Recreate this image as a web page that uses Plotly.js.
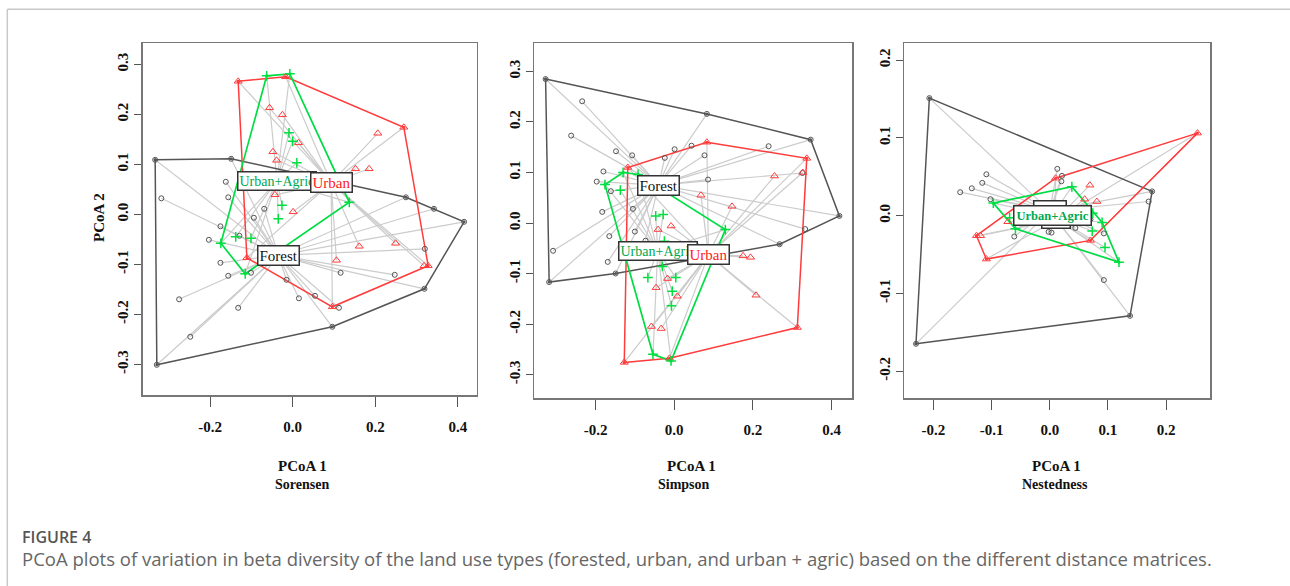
<!DOCTYPE html>
<html>
<head>
<meta charset="utf-8">
<script src="https://cdn.plot.ly/plotly-3.0.1.min.js"></script>
<style>
html,body{margin:0;padding:0;background:#fff;}
#chart{width:1290px;height:586px;}
</style>
</head>
<body>
<div id="chart"></div>
<script>
// ---------------- DATA ----------------
const groupNames = ["Forest", "Urban", "Urban+Agric"];
const panelTitles = ["Sorensen", "Simpson", "Nestedness"];
const axisTitleX = "PCoA 1";
const axisTitleY = "PCoA 2";

// Panel 1 - Sorensen
const sorForestX = [-0.333,-0.149,0.274,0.342,0.415,0.319,0.096,-0.329,-0.318,-0.162,-0.156,-0.069,-0.094,-0.175,-0.129,-0.203,-0.175,-0.156,-0.101,-0.275,-0.132,-0.248,-0.015,0.015,0.054,0.112,0.116,0.247,0.320];
const sorForestY = [0.109,0.111,0.034,0.011,-0.015,-0.149,-0.225,-0.301,0.032,0.065,0.034,0.011,-0.007,-0.024,-0.043,-0.051,-0.097,-0.123,-0.117,-0.170,-0.187,-0.245,-0.131,-0.168,-0.163,-0.187,-0.117,-0.121,-0.069];
const sorUrbanX = [-0.132,-0.017,0.269,0.328,0.318,0.096,-0.111,-0.056,-0.025,0.014,-0.048,-0.039,0.206,0.152,0.185,-0.043,0.001,0.161,0.249,0.106];
const sorUrbanY = [0.266,0.275,0.174,-0.103,-0.103,-0.185,-0.087,0.213,0.199,0.143,0.125,0.108,0.162,0.091,0.091,0.039,0.005,-0.064,-0.058,-0.092];
const sorAgricX = [-0.063,-0.007,0.137,-0.115,-0.174,-0.009,0.000,0.010,-0.026,-0.035,-0.138,-0.101];
const sorAgricY = [0.277,0.281,0.024,-0.119,-0.058,0.163,0.146,0.103,0.018,-0.009,-0.045,-0.048];
const sorCentroidX = [-0.035, 0.093, -0.038];
const sorCentroidY = [-0.082, 0.063, 0.067];

// Panel 2 - Simpson
const simForestX = [-0.327,0.083,0.347,0.420,0.268,-0.149,-0.318,-0.234,-0.262,-0.148,-0.107,-0.024,0.001,0.044,0.077,0.240,0.326,0.086,-0.180,-0.197,-0.161,-0.105,-0.183,-0.100,-0.165,-0.073,-0.308,-0.169,0.333];
const simForestY = [0.285,0.216,0.165,0.014,-0.042,-0.100,-0.117,0.241,0.173,0.142,0.134,0.129,0.146,0.153,0.134,0.152,0.099,0.086,0.102,0.082,0.063,0.028,0.022,-0.017,-0.026,-0.035,-0.055,-0.077,-0.012];
const simUrbanX = [-0.118,0.083,0.337,0.313,-0.012,-0.127,0.327,0.255,0.068,0.147,-0.041,-0.008,0.175,0.194,-0.017,-0.046,0.008,0.208,-0.058,-0.033];
const simUrbanY = [0.110,0.160,0.128,-0.207,-0.268,-0.276,0.100,0.093,0.055,0.033,-0.013,-0.006,-0.065,-0.068,-0.110,-0.128,-0.145,-0.143,-0.205,-0.209];
const simAgricX = [-0.176,-0.130,-0.092,0.130,-0.008,-0.054,-0.137,-0.047,-0.028,-0.025,-0.030,-0.067,0.004,-0.005,-0.007];
const simAgricY = [0.076,0.100,0.096,-0.013,-0.273,-0.260,0.065,0.014,0.017,-0.036,-0.086,-0.108,-0.108,-0.135,-0.164];
const simCentroidX = [-0.040, 0.087, -0.042];
const simCentroidY = [0.075, -0.063, -0.055];

// Panel 3 - Nestedness
const nesForestX = [-0.207,0.176,0.138,-0.230,0.013,0.021,0.020,-0.109,-0.116,-0.134,-0.154,-0.102,0.170,0.070,0.093,-0.061,-0.002,0.003,0.044,0.093];
const nesForestY = [0.151,0.031,-0.129,-0.165,0.060,0.051,0.044,0.053,0.042,0.035,0.030,0.021,0.018,-0.005,-0.023,-0.027,-0.021,-0.022,-0.016,-0.083];
const nesUrbanX = [0.254,0.010,-0.126,-0.119,-0.109,0.070,0.069,0.060,0.081,-0.072];
const nesUrbanY = [0.106,0.048,-0.026,-0.026,-0.056,-0.032,0.039,0.021,0.018,-0.008];
const nesAgricX = [-0.097,0.038,0.074,0.090,0.119,-0.059,0.073,0.095,-0.069];
const nesAgricY = [0.016,0.037,0.003,-0.009,-0.060,-0.017,-0.020,-0.041,-0.003];
const nesCentroidX = [0.000, 0.010, 0.004];
const nesCentroidY = [0.006, -0.006, 0.000];

// Tick labels
const xTicks12 = [-0.2, 0.0, 0.2, 0.4];
const xTickText12 = ["-0.2", "0.0", "0.2", "0.4"];
const yTicks12 = [-0.3, -0.2, -0.1, 0.0, 0.1, 0.2, 0.3];
const yTickText12 = ["-0.3", "-0.2", "-0.1", "0.0", "0.1", "0.2", "0.3"];
const xTicks3 = [-0.2, -0.1, 0.0, 0.1, 0.2];
const xTickText3 = ["-0.2", "-0.1", "0.0", "0.1", "0.2"];
const yTicks3 = [-0.2, -0.1, 0.0, 0.1, 0.2];
const yTickText3 = ["-0.2", "-0.1", "0.0", "0.1", "0.2"];

const captionTitle = "FIGURE 4";
const captionText = "PCoA plots of variation in beta diversity of the land use types (forested, urban, and urban + agric) based on the different distance matrices.";

// ---------------- STYLE ----------------
const W = 1290, H = 586;
const px = x => x / W;
const py = y => 1 - y / H;
const SERIF = "Liberation Serif, Times New Roman, serif";
const SANS = "Open Sans, Noto Sans, sans-serif";
const groupColors = ["#555555", "#ff3b3b", "#00dd44"];
const labelColors = ["#111111", "#ff2020", "#00a84f"];
const markerStyles = [
  {symbol: "circle-open", size: 5, color: "#555", line: {width: 1, color: "#555"}},
  {symbol: "triangle-up-open", size: 7, color: "#ff3b3b", line: {width: 1, color: "#ff3b3b"}},
  {symbol: "cross-thin-open", size: 7, color: "#00e040", line: {width: 1.5, color: "#00e040"}}
];

const panels = [
  {groups: [[sorForestX, sorForestY], [sorUrbanX, sorUrbanY], [sorAgricX, sorAgricY]],
   cx: sorCentroidX, cy: sorCentroidY,
   dom: {x: [px(142.7), px(476.7)], y: [py(395), py(43.3)]},
   range: {x: [-0.3632, 0.4455], y: [-0.3614, 0.342]},
   xt: [xTicks12, xTickText12], yt: [yTicks12, yTickText12],
   labelFont: [15, 15, 14], labelBold: [false, false, false], labelPad: [1, 1, 1], labelOrder: [0, 2, 1],
   titleX: 302, subX: 302},
  {groups: [[simForestX, simForestY], [simUrbanX, simUrbanY], [simAgricX, simAgricY]],
   cx: simCentroidX, cy: simCentroidY,
   dom: {x: [px(534), px(852.3)], y: [py(398), py(43.3)]},
   range: {x: [-0.3565, 0.4528], y: [-0.3465, 0.3558]},
   xt: [xTicks12, xTickText12], yt: [yTicks12, yTickText12],
   labelFont: [15, 15, 14], labelBold: [false, false, false], labelPad: [1, 1, 1], labelOrder: [0, 2, 1],
   titleX: 691, subX: 684},
  {groups: [[nesForestX, nesForestY], [nesUrbanX, nesUrbanY], [nesAgricX, nesAgricY]],
   cx: nesCentroidX, cy: nesCentroidY,
   dom: {x: [px(904), px(1210)], y: [py(398), py(43.3)]},
   range: {x: [-0.2506, 0.2755], y: [-0.2347, 0.2215]},
   xt: [xTicks3, xTickText3], yt: [yTicks3, yTickText3],
   labelFont: [9, 9, 12.5], labelBold: [false, false, true], labelPad: [4, 2, 2], labelOrder: [0, 1, 2],
   titleX: 1056, subX: 1055}
];

function convexHull(xs, ys) {
  const pts = xs.map((x, i) => [x, ys[i]]).sort((a, b) => a[0] - b[0] || a[1] - b[1]);
  const cross = (o, a, b) => (a[0] - o[0]) * (b[1] - o[1]) - (a[1] - o[1]) * (b[0] - o[0]);
  const lower = [], upper = [];
  for (const p of pts) { while (lower.length >= 2 && cross(lower[lower.length-2], lower[lower.length-1], p) <= 0) lower.pop(); lower.push(p); }
  for (let i = pts.length - 1; i >= 0; i--) { const p = pts[i]; while (upper.length >= 2 && cross(upper[upper.length-2], upper[upper.length-1], p) <= 0) upper.pop(); upper.push(p); }
  upper.pop(); lower.pop();
  const h = lower.concat(upper); h.push(h[0]);
  return {x: h.map(p => p[0]), y: h.map(p => p[1])};
}

const traces = [];
const annotations = [];
const layout = {
  width: W, height: H,
  margin: {l: 0, r: 0, t: 0, b: 0},
  paper_bgcolor: "#fff", plot_bgcolor: "#fff",
  showlegend: false,
  font: {family: SERIF, color: "#111"},
  shapes: [
    {type: "line", xref: "paper", yref: "paper", x0: px(7.3), x1: 1.01, y0: py(9.3), y1: py(9.3), line: {color: "#c8c8c8", width: 1.5}},
    {type: "line", xref: "paper", yref: "paper", x0: px(7.3), x1: px(7.3), y0: py(9.3), y1: -0.01, line: {color: "#c8c8c8", width: 1.5}}
  ],
  annotations: annotations
};

function paperText(x, y, text, font, extra) {
  return Object.assign({xref: "paper", yref: "paper", x: px(x), y: py(y), text: text, showarrow: false,
    xanchor: "center", yanchor: "middle", font: font}, extra || {});
}

panels.forEach((p, k) => {
  const n = k === 0 ? "" : String(k + 1);
  const xa = "x" + n, ya = "y" + n;
  layout["xaxis" + n] = {
    domain: p.dom.x, range: p.range.x, anchor: ya, fixedrange: true,
    showgrid: false, zeroline: false, showline: true, mirror: true,
    linecolor: "#777", linewidth: 1.5,
    ticks: "outside", ticklen: 10, tickwidth: 1, tickcolor: "#555",
    tickvals: p.xt[0], ticktext: p.xt[1], ticklabelstandoff: 7,
    tickfont: {family: SERIF, size: 15, color: "#111", weight: "bold"}
  };
  layout["yaxis" + n] = {
    domain: p.dom.y, range: p.range.y, anchor: xa, fixedrange: true,
    showgrid: false, zeroline: false, showline: true, mirror: true,
    linecolor: "#777", linewidth: 1.5,
    ticks: "outside", ticklen: 7, tickwidth: 1, tickcolor: "#555",
    tickvals: p.yt[0], ticktext: p.yt[1], tickangle: -90,
    tickfont: {family: SERIF, size: 15, color: "#111", weight: "bold"}
  };
  // spider lines
  const sx = [], sy = [];
  p.groups.forEach((g, gi) => {
    g[0].forEach((x, i) => { sx.push(p.cx[gi], x, null); sy.push(p.cy[gi], g[1][i], null); });
  });
  traces.push({type: "scatter", mode: "lines", x: sx, y: sy, xaxis: xa, yaxis: ya,
    line: {color: "#cccccc", width: 1.2}, hoverinfo: "skip"});
  // hulls
  p.groups.forEach((g, gi) => {
    const h = convexHull(g[0], g[1]);
    traces.push({type: "scatter", mode: "lines+markers", x: h.x, y: h.y, xaxis: xa, yaxis: ya,
      line: {color: groupColors[gi], width: gi === 2 ? 1.7 : 1.5},
      marker: {size: 3, color: groupColors[gi]}, hoverinfo: "skip"});
  });
  // points
  p.groups.forEach((g, gi) => {
    traces.push({type: "scatter", mode: "markers", x: g[0], y: g[1], xaxis: xa, yaxis: ya,
      marker: markerStyles[gi], name: groupNames[gi]});
  });
  // centroid labels
  p.labelOrder.forEach(gi => {
    annotations.push({xref: xa, yref: ya, x: p.cx[gi], y: p.cy[gi], text: groupNames[gi], showarrow: false,
      xanchor: "center", yanchor: "middle",
      font: {family: SERIF, size: p.labelFont[gi], color: labelColors[gi], weight: p.labelBold[gi] ? "bold" : "normal"},
      bgcolor: "#fff", bordercolor: "#333", borderwidth: 1.5, borderpad: p.labelPad[gi]});
  });
  // x titles
  annotations.push(paperText(p.titleX, 466, axisTitleX, {family: SERIF, size: 15, color: "#111", weight: "bold"}));
  annotations.push(paperText(p.subX, 484, panelTitles[k], {family: SERIF, size: 14, color: "#111", weight: "bold"}));
});

annotations.push(paperText(99, 218, axisTitleY, {family: SERIF, size: 15, color: "#111", weight: "bold"}, {textangle: -90}));
annotations.push(paperText(20, 536.5, captionTitle, {family: SANS, size: 16, color: "#555", weight: 600}, {xanchor: "left"}));
annotations.push(paperText(20, 558, captionText, {family: SANS, size: 18.5, color: "#666"}, {xanchor: "left"}));

Plotly.newPlot("chart", traces, layout, {staticPlot: true, displayModeBar: false});
</script>
</body>
</html>
